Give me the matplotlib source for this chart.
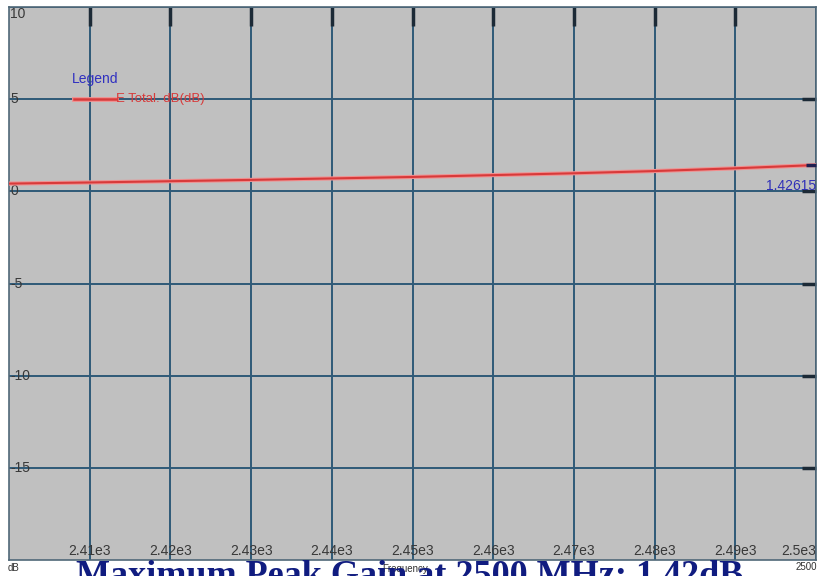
import matplotlib
matplotlib.use("Agg")
import matplotlib.pyplot as plt

freq = [2400, 2410, 2420, 2430, 2440, 2450, 2460, 2470, 2480, 2490, 2500]
gain_db = [0.42, 0.48, 0.55, 0.62, 0.70, 0.78, 0.88, 0.98, 1.10, 1.25, 1.426]
xticks = [2410, 2420, 2430, 2440, 2450, 2460, 2470, 2480, 2490, 2500]
xticklabels = ["2.41e3", "2.42e3", "2.43e3", "2.44e3", "2.45e3", "2.46e3",
               "2.47e3", "2.48e3", "2.49e3", "2.5e3"]
yticks = [-15, -10, -5, 0, 5, 10]
yticklabels = ["-15", "-10", "-5", "0", "5", "10"]
marker_label = "1.42615"
series_name = "E Total. dB(dB)"
title = "Maximum Peak Gain at 2500 MHz: 1.42dB"

plt.rcParams['font.family'] = ['Liberation Sans', 'DejaVu Sans']

W, H = 818, 576
fig = plt.figure(figsize=(W / 100, H / 100), dpi=100)
fig.patch.set_facecolor('white')

left, right, top, bottom = 9, 816, 7, 560
ax = fig.add_axes([left / W, 1 - bottom / H, (right - left) / W, (bottom - top) / H])
ax.set_facecolor('#c0c0c0')
ax.set_xlim(2400, 2500)
ax.set_ylim(-20, 10)

gridc = '#2f5a78'
ax.set_xticks(xticks)
ax.set_xticklabels(xticklabels)
ax.set_yticks(yticks)
ax.set_yticklabels(yticklabels)
ax.grid(True, color=gridc, linewidth=1.4)
ax.set_axisbelow(True)

for s in ax.spines.values():
    s.set_color('#506878')
    s.set_linewidth(1.2)

ax.tick_params(axis='x', bottom=False, top=True, labelbottom=True, labeltop=False,
               direction='in', length=14, width=2.5, color='#1c2a36',
               pad=-11.5, labelsize=10, labelcolor='#383838')
ax.tick_params(axis='y', left=False, right=True, labelleft=True, labelright=False,
               direction='in', length=10, width=2.5, color='#1c2a36',
               pad=-1, labelsize=10, labelcolor='#383838')
for lab in ax.get_yticklabels():
    lab.set_ha('left')
    lab.set_va('center')
ylabs = ax.get_yticklabels()
ylabs[-1].set_va('top')
xlabs = ax.get_xticklabels()
xlabs[-1].set_ha('right')
ax.yaxis.get_major_ticks()[-1].tick2line.set_visible(False)
ax.xaxis.get_major_ticks()[-1].tick2line.set_visible(False)

ax.plot(freq, gain_db, color='#f09090', linewidth=3.0, solid_capstyle='butt', zorder=3)
ax.plot(freq, gain_db, color='#d83a3a', linewidth=1.5, solid_capstyle='butt', zorder=4)

# marker at 2500
ax.plot([2498.8, 2500], [gain_db[-1], gain_db[-1]], color='#202050', linewidth=2.5,
        solid_capstyle='butt', zorder=5, clip_on=False)
ax.text(2500, 0.3, marker_label, color='#3030b8', fontsize=10, ha='right', va='center',
        zorder=6)

# legend
ax.text(2407.8, 6.1, "Legend", color='#3030c0', fontsize=10, ha='left', va='center', zorder=6)
ax.plot([2408.1, 2413.3], [5.0, 5.0], color='#d83a3a', linewidth=1.8, zorder=6)
ax.plot([2408.1, 2413.3], [5.0, 5.0], color='#f09090', linewidth=3.5, zorder=5)
ax.text(2413.3, 5.0, series_name, color='#d83a3a', fontsize=9.5, ha='left', va='center',
        zorder=6)

# bottom texts
fig.text(8 / W, 1 - 568 / H, "dB", fontsize=7, color='#303030', ha='left', va='center')
fig.text(817 / W, 1 - 567 / H, "2500", fontsize=7, color='#303030', ha='right', va='center')
fig.text(405 / W, 1 - 569 / H, "Frequency", fontsize=7, color='#303030', ha='center',
         va='center')
fig.text(410 / W, 1 - 585 / H, title, fontsize=26, fontweight='bold', color='#101c80',
         family='Liberation Serif', ha='center', va='baseline')

fig.savefig('out.png', dpi=100, facecolor='white')
